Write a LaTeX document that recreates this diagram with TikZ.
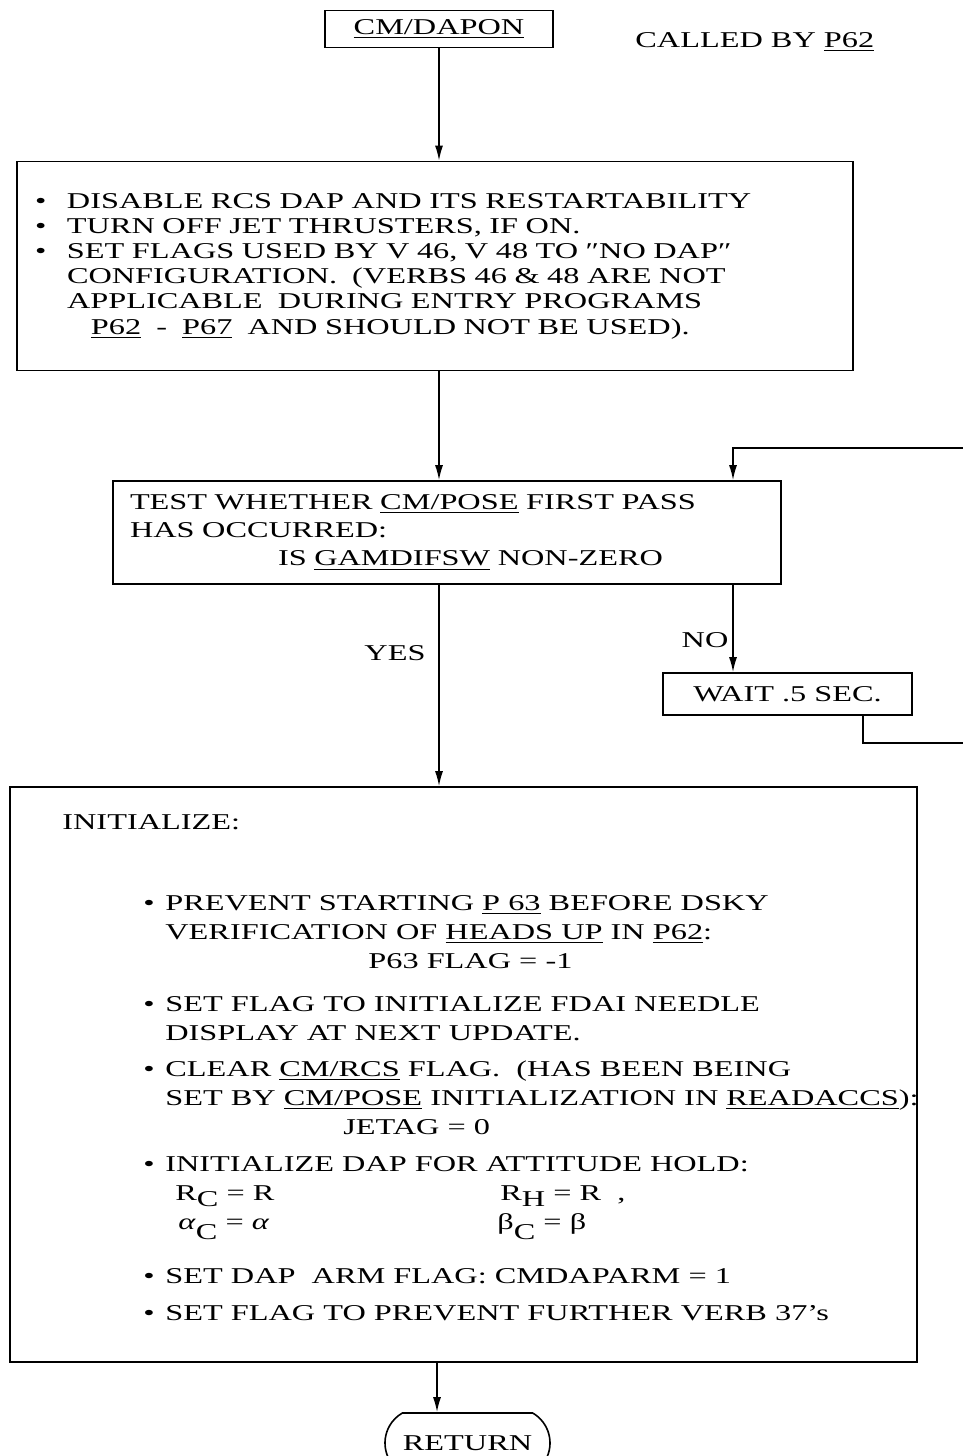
\documentclass[tikz,border=0pt]{standalone}
\usepackage{fontspec}
\setmainfont[FakeStretch=1.43]{Liberation Serif}
\usetikzlibrary{arrows.meta,shapes.misc,positioning}

\newcommand{\bul}[1][16pt]{\makebox[#1][l]{\textbullet}}
\newcommand{\lowsub}[2][3pt]{\raisebox{-#1}{#2}}

\begin{document}
\begin{tikzpicture}[
  x=0.5pt, y=-0.5pt,
  font=\fontsize{11.3}{11.3}\selectfont,
  >={Latex[length=7.5pt,width=4pt]},
  box/.style={draw, line width=0.8pt, inner sep=0pt},
  txt/.style={inner sep=0pt, align=left},
  flow/.style={->, line width=0.8pt}
]
  \clip (0,0) rectangle (963,1456);

  \node[box, minimum width=114pt, minimum height=18.5pt] (dapon) at (439,29) {\underline{CM/DAPON}};
  \node[txt, anchor=west] (called) at (635,42) {CALLED BY \underline{P62}};

  \node[box, text width=400pt, inner xsep=9pt, minimum height=104.5pt, align=left,
        font=\fontsize{11.3}{12.6}\selectfont] (disable) at (435,266) {%
    \bul DISABLE RCS DAP AND ITS RESTARTABILITY\\
    \bul TURN OFF JET THRUSTERS, IF ON.\\
    \bul SET FLAGS USED BY V 46, V 48 TO ″NO DAP″\\
    \hspace*{16pt}CONFIGURATION. \ (VERBS 46 \& 48 ARE NOT\\
    \hspace*{16pt}APPLICABLE \ DURING ENTRY PROGRAMS\\
    \hspace*{28pt}\underline{P62} \ - \ \underline{P67} \ AND SHOULD NOT BE USED).};

  \node[box, text width=317pt, inner xsep=8.5pt, minimum height=51.5pt, align=left,
        font=\fontsize{11.3}{14}\selectfont] (test) at (447,532.5) {%
    TEST WHETHER \underline{CM/POSE} FIRST PASS\\
    HAS OCCURRED:\\
    \hspace*{74pt}IS \underline{GAMDIFSW} NON-ZERO};

  \node[box, minimum width=124.5pt, minimum height=21pt] (wait) at (787.5,694) {WAIT .5 SEC.};
  \node[txt] (no) at (705,640) {NO};
  \node[txt] (yes) at (395,653) {YES};

  \node[box, minimum width=453.5pt, minimum height=287.5pt] (initbox) at (463.5,1074.5) {};
  \node[txt, anchor=west] (initlbl) at (62,822) {INITIALIZE:};

  \begin{scope}[every node/.style={txt, anchor=north west, font=\fontsize{11.3}{14.5}\selectfont}]
    \node (prevent) at (143,895) {%
      \bul[11pt]PREVENT STARTING \underline{P 63} BEFORE DSKY\\
      \hspace*{11pt}VERIFICATION OF \underline{HEADS UP} IN \underline{P62}:\\
      \hspace*{112.5pt}P63 FLAG = -1};
    \node (fdai) at (143,996) {%
      \bul[11pt]SET FLAG TO INITIALIZE FDAI NEEDLE\\
      \hspace*{11pt}DISPLAY AT NEXT UPDATE.};
    \node (clear) at (143,1060) {%
      \bul[11pt]CLEAR \underline{CM/RCS} FLAG. \ (HAS BEEN BEING\\
      \hspace*{11pt}SET BY \underline{CM/POSE} INITIALIZATION IN \underline{READACCS}):\\
      \hspace*{100pt}JETAG = 0};
    \node (hold) at (143,1156) {%
      \bul[11pt]INITIALIZE DAP FOR ATTITUDE HOLD:\\
      \hspace*{16pt}\makebox[162.5pt][l]{R\lowsub{C} = R}R\lowsub{H} = R \ ,\\
      \hspace*{17.5pt}\makebox[159.5pt][l]{\textit{α}\lowsub[5pt]{C} = \textit{α}}β\lowsub[5pt]{C} = β};
    \node (arm) at (143,1268) {\bul[11pt]SET DAP \ ARM FLAG: CMDAPARM = 1};
    \node (verb) at (143,1305) {\bul[11pt]SET FLAG TO PREVENT FURTHER VERB 37's};
  \end{scope}

  \node[box, rounded rectangle, rounded rectangle arc length=120, minimum width=82.5pt,
        minimum height=30pt] (ret) at (467.5,1443) {RETURN};

  \coordinate (loopin) at (733,448);
  \coordinate (loopout) at (863,743);
  \coordinate (loopfar) at (990,600);
  \coordinate (retin) at (437,1400);

  \draw[flow] (dapon) -- (dapon |- disable.north);
  \draw[flow] (disable.south -| dapon) -- (test.north -| dapon);
  \draw[flow] (test.south -| dapon) -- (initbox.north -| dapon);
  \draw[flow] (test.south -| loopin) -- (wait.north -| loopin);
  \draw[flow] (wait.south -| loopout) -- (loopout) -| (loopfar) |- (loopin) -- (test.north -| loopin);
  \draw[flow] (initbox.south -| retin) -- (ret.north -| retin);
\end{tikzpicture}
\end{document}
